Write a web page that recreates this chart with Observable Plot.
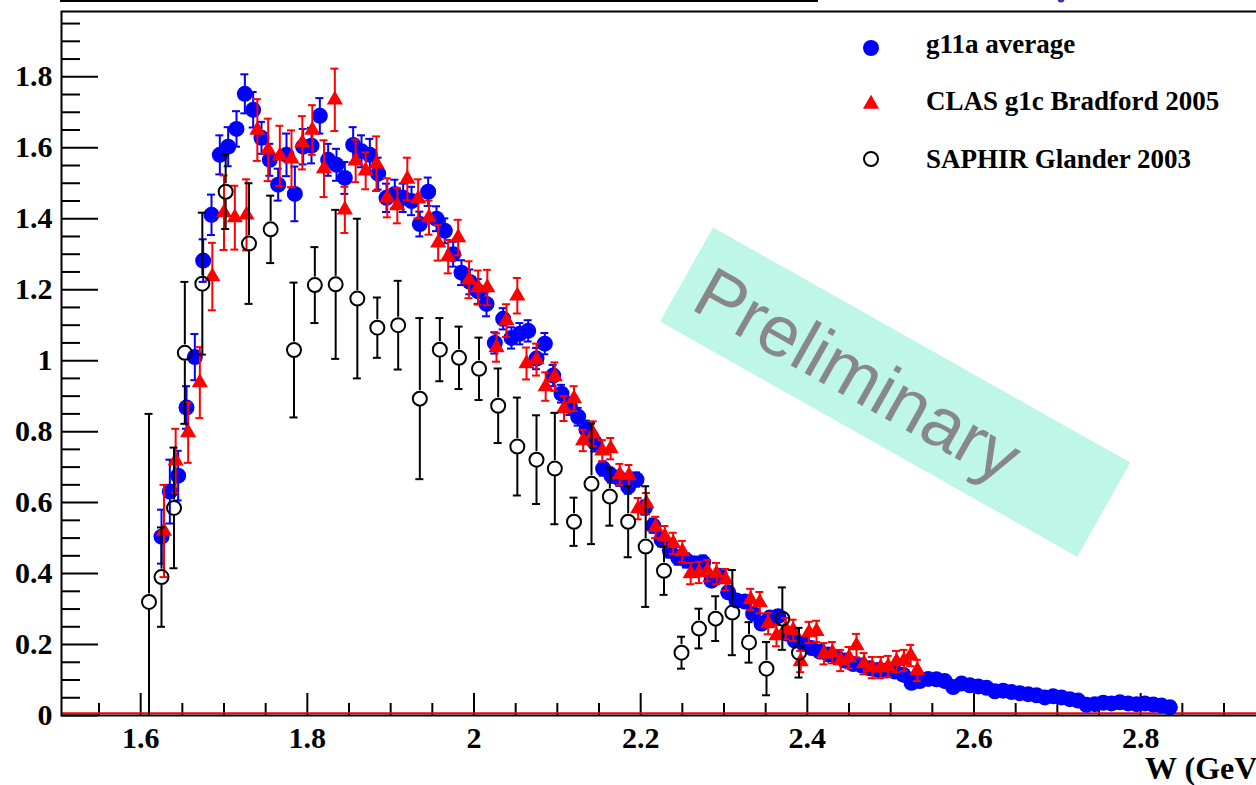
<!DOCTYPE html>
<html><head><meta charset="utf-8">
<script src="https://cdn.jsdelivr.net/npm/d3@7"></script>
<script src="https://cdn.jsdelivr.net/npm/@observablehq/plot@0.6"></script>
<style>
html,body{margin:0;padding:0;background:#fff;overflow:hidden;width:1256px;height:785px;}
#chart{position:absolute;left:0;top:0;width:1280px;height:785px;}
#chart svg{max-width:none !important;width:1280px !important;height:785px !important;}
</style></head><body><div id="chart"></div>
<script>
// ---- g11a average (blue filled circles)
const g11aW = [1.625,1.635,1.645,1.655,1.665,1.675,1.685,1.695,1.705,1.715,1.725,1.735,1.745,1.755,1.765,1.775,1.785,1.795,1.805,1.815,1.825,1.835,1.845,1.855,1.865,1.875,1.885,1.895,1.905,1.915,1.925,1.935,1.945,1.955,1.965,1.975,1.985,1.995,2.005,2.015,2.025,2.035,2.045,2.055,2.065,2.075,2.085,2.095,2.105,2.115,2.125,2.135,2.145,2.155,2.165,2.175,2.185,2.195,2.205,2.215,2.225,2.235,2.245,2.255,2.265,2.275,2.285,2.295,2.305,2.315,2.325,2.335,2.345,2.355,2.365,2.375,2.385,2.395,2.405,2.415,2.425,2.435,2.445,2.455,2.465,2.475,2.485,2.495,2.505,2.515,2.525,2.535,2.545,2.555,2.565,2.575,2.585,2.595,2.605,2.615,2.625,2.635,2.645,2.655,2.665,2.675,2.685,2.695,2.705,2.715,2.725,2.735,2.745,2.755,2.765,2.775,2.785,2.795,2.805,2.815,2.825,2.835];
const g11aY = [0.504,0.631,0.676,0.868,1.010,1.282,1.411,1.580,1.603,1.653,1.752,1.707,1.628,1.566,1.496,1.580,1.470,1.603,1.606,1.690,1.566,1.552,1.515,1.608,1.590,1.580,1.527,1.459,1.470,1.459,1.450,1.385,1.476,1.400,1.366,1.300,1.248,1.222,1.195,1.160,1.050,1.118,1.064,1.076,1.084,1.006,1.048,0.958,0.907,0.872,0.842,0.806,0.769,0.696,0.676,0.667,0.645,0.665,0.586,0.535,0.496,0.465,0.445,0.437,0.428,0.431,0.380,0.394,0.347,0.324,0.321,0.287,0.259,0.276,0.280,0.231,0.211,0.203,0.190,0.180,0.172,0.165,0.155,0.145,0.141,0.133,0.128,0.127,0.124,0.115,0.092,0.097,0.103,0.102,0.097,0.080,0.090,0.085,0.082,0.078,0.068,0.070,0.066,0.063,0.060,0.057,0.051,0.054,0.051,0.046,0.042,0.030,0.032,0.036,0.034,0.037,0.034,0.032,0.034,0.031,0.028,0.023];
const g11aErr = [0.076,0.09,0.07,0.06,0.065,0.06,0.057,0.055,0.055,0.05,0.055,0.05,0.045,0.045,0.045,0.06,0.077,0.05,0.05,0.05,0.045,0.045,0.045,0.05,0.045,0.045,0.045,0.04,0.04,0.04,0.04,0.035,0.04,0.035,0.035,0.035,0.035,0.035,0.035,0.035,0.03,0.03,0.03,0.03,0.03,0.03,0.03,0.03,0.025,0.025,0.025,0.025,0.025,0.02,0.02,0.02,0.02,0.02,0.02,0.02,0.02,0.02,0.02,0.02,0.02,0.02,0.015,0.015,0.015,0.015,0.015,0.015,0.015,0.015,0.015,0.015,0.015,0.015,0.012,0.012,0.012,0.012,0.012,0.012,0.012,0.012,0.01,0.01,0.01,0.01,0.01,0.01,0.01,0.01,0.01,0.01,0.01,0.01,0.008,0.008,0.008,0.008,0.008,0.008,0.008,0.008,0.008,0.008,0.008,0.008,0.008,0.008,0.008,0.008,0.008,0.008,0.008,0.008,0.008,0.008,0.008,0.008];

// ---- CLAS g1c Bradford 2005 (red triangles)
const clasW = [1.628,1.642,1.657,1.671,1.686,1.700,1.713,1.727,1.740,1.753,1.767,1.781,1.794,1.806,1.820,1.833,1.845,1.858,1.870,1.883,1.896,1.908,1.920,1.933,1.946,1.957,1.969,1.981,1.994,2.005,2.016,2.027,2.039,2.052,2.063,2.075,2.086,2.097,2.108,2.120,2.131,2.143,2.154,2.164,2.175,2.186,2.197,2.207,2.218,2.229,2.239,2.250,2.260,2.270,2.280,2.291,2.302,2.332,2.343,2.353,2.363,2.374,2.383,2.392,2.402,2.411,2.420,2.430,2.440,2.450,2.459,2.468,2.478,2.488,2.497,2.507,2.516,2.524,2.532];
const clasY = [0.520,0.718,0.797,0.938,1.237,1.417,1.403,1.411,1.650,1.594,1.577,1.569,1.614,1.650,1.541,1.735,1.425,1.563,1.535,1.555,1.459,1.437,1.512,1.456,1.403,1.332,1.293,1.347,1.228,1.206,1.206,1.037,1.113,1.183,0.992,1.003,0.927,0.955,0.865,0.893,0.775,0.794,0.746,0.752,0.679,0.676,0.583,0.597,0.530,0.504,0.485,0.462,0.400,0.403,0.408,0.400,0.383,0.327,0.318,0.259,0.225,0.245,0.240,0.152,0.234,0.237,0.174,0.177,0.155,0.163,0.197,0.146,0.135,0.135,0.138,0.152,0.155,0.169,0.127];
const clasErr = [0.13,0.09,0.085,0.1,0.095,0.105,0.09,0.1,0.087,0.088,0.085,0.08,0.075,0.07,0.08,0.088,0.065,0.06,0.052,0.077,0.055,0.05,0.06,0.055,0.048,0.05,0.047,0.05,0.052,0.048,0.05,0.04,0.046,0.05,0.045,0.045,0.04,0.04,0.035,0.035,0.03,0.035,0.03,0.03,0.03,0.03,0.03,0.03,0.03,0.03,0.03,0.03,0.03,0.03,0.03,0.03,0.03,0.03,0.03,0.03,0.03,0.03,0.03,0.03,0.03,0.03,0.03,0.03,0.03,0.03,0.033,0.03,0.03,0.03,0.03,0.03,0.03,0.03,0.03];

// ---- SAPHIR Glander 2003 (open black circles)
const saphirW = [1.610,1.625,1.640,1.653,1.674,1.702,1.730,1.756,1.784,1.809,1.834,1.860,1.884,1.909,1.935,1.959,1.982,2.006,2.029,2.052,2.075,2.097,2.120,2.141,2.163,2.185,2.206,2.228,2.249,2.270,2.290,2.310,2.330,2.351,2.370,2.390];
const saphirY = [0.32,0.39,0.585,1.022,1.217,1.476,1.33,1.37,1.03,1.213,1.215,1.175,1.093,1.10,0.893,1.031,1.008,0.977,0.873,0.758,0.721,0.696,0.546,0.653,0.617,0.546,0.476,0.408,0.177,0.245,0.273,0.29,0.206,0.132,0.273,0.177];
const saphirErr = [0.53,0.14,0.17,0.2,0.2,0.105,0.17,0.095,0.19,0.107,0.21,0.225,0.085,0.125,0.227,0.089,0.088,0.088,0.105,0.138,0.125,0.157,0.068,0.17,0.082,0.1,0.17,0.068,0.045,0.056,0.063,0.12,0.057,0.075,0.088,0.07];

// ---- axis ticks
const xMajor = [1.6,1.8,2.0,2.2,2.4,2.6,2.8];
const xMinor = [1.55,1.65,1.7,1.75,1.85,1.9,1.95,2.05,2.1,2.15,2.25,2.3,2.35,2.45,2.5,2.55,2.65,2.7,2.75,2.85,2.9,2.95];
const yMajor = [0,0.2,0.4,0.6,0.8,1,1.2,1.4,1.6,1.8];
const yMinor = [0.05,0.1,0.15,0.25,0.3,0.35,0.45,0.5,0.55,0.65,0.7,0.75,0.85,0.9,0.95,1.05,1.1,1.15,1.25,1.3,1.35,1.45,1.5,1.55,1.65,1.7,1.75,1.85,1.9,1.95];
const xLabels = ["1.6","1.8","2","2.2","2.4","2.6","2.8"];
const yLabels = ["0","0.2","0.4","0.6","0.8","1","1.2","1.4","1.6","1.8"];

const legendNames = ["g11a average","CLAS g1c Bradford 2005","SAPHIR Glander 2003"];

const BLUE = "#0000ff", RED = "#ff0000", BLACK = "#000000";
const blue = g11aW.map((w,i)=>({w, y:g11aY[i], e:g11aErr[i]}));
const red = clasW.map((w,i)=>({w, y:clasY[i], e:clasErr[i]}));
const black = saphirW.map((w,i)=>({w, y:saphirY[i], e:saphirErr[i]}));

const W = 1280, H = 785, mL = 61, mR = 6.5, mT = 11, mB = 70;
const innerW = W - mL - mR, innerH = H - mT - mB;
const SERIF = "'Liberation Serif','Times New Roman',serif";
const RB = 7; // black circle radius

function errMarks(data, color, split) {
  const m = [];
  if (split) {
    const pxPerUnit = innerH / 1.984;
    const big = data.filter(d => d.e * pxPerUnit > RB + 1.5);
    m.push(Plot.ruleX(big, {x:"w", y1: d => d.y + d.e, y2: "y", insetBottom: RB + 1, stroke: color, strokeWidth: 2}));
    m.push(Plot.ruleX(big.filter(d => d.y * pxPerUnit > RB + 1.5), {x:"w", y1: "y", y2: d => Math.max(0, d.y - d.e), insetTop: RB + 1, stroke: color, strokeWidth: 2}));
  } else {
    m.push(Plot.ruleX(data, {x:"w", y1: d => Math.max(0, d.y - d.e), y2: d => d.y + d.e, stroke: color, strokeWidth: 2}));
  }
  m.push(Plot.ruleY(data, {y: d => d.y + d.e, x1:"w", x2:"w", insetLeft:-4, insetRight:-4, stroke: color, strokeWidth: 2}));
  m.push(Plot.ruleY(data.filter(d => d.y - d.e > 0), {y: d => d.y - d.e, x1:"w", x2:"w", insetLeft:-4, insetRight:-4, stroke: color, strokeWidth: 2}));
  return m;
}

const plot = Plot.plot({
  width: W, height: H,
  marginLeft: mL, marginRight: mR, marginTop: mT, marginBottom: mB,
  x: {domain: [1.505, 2.96]},
  y: {domain: [0, 1.984]},
  style: {fontFamily: SERIF, fontWeight: "bold", background: "white", color: "black", maxWidth: "none"},
  marks: [
    Plot.axisY({ticks: yMajor, tickSize: 0, tickPadding: 9, tickFormat: (d,i) => yLabels[i], fontSize: 30, fontWeight: "bold", label: null}),
    Plot.axisX({ticks: xMajor, tickSize: 0, tickPadding: 11, tickFormat: (d,i) => xLabels[i], fontSize: 30, fontWeight: "bold", label: null}),
    Plot.text(["W (GeV)"], {frameAnchor: "bottom-right", dx: -6, dy: 63, textAnchor: "end", fontSize: 32, fontWeight: "bold"}),
    Plot.tickY(yMajor, {y: d => d, insetRight: innerW - 37, stroke: BLACK, strokeWidth: 2}),
    Plot.tickY(yMinor, {y: d => d, insetRight: innerW - 19, stroke: BLACK, strokeWidth: 2}),
    Plot.tickX(xMajor, {x: d => d, insetTop: innerH - 22, stroke: BLACK, strokeWidth: 2}),
    Plot.tickX(xMinor, {x: d => d, insetTop: innerH - 12, stroke: BLACK, strokeWidth: 2}),
    Plot.ruleY([0], {stroke: RED, strokeWidth: 2, dy: -2.3}),
    ...errMarks(blue, BLUE, false),
    Plot.dot(blue, {x:"w", y:"y", r: 8, fill: BLUE, stroke: "none"}),
    ...errMarks(red, RED, false),
    Plot.dot(red, {x:"w", y:"y", r: 6, symbol: "triangle", fill: RED, stroke: "none"}),
    ...errMarks(black, BLACK, true),
    Plot.dot(black, {x:"w", y:"y", r: RB, fill: "none", stroke: BLACK, strokeWidth: 2}),
    Plot.frame({stroke: BLACK, strokeWidth: 2})
  ]
});
plot.style.maxWidth = "none";

const svg = d3.select(plot);
const xs = plot.scale("x"), ys = plot.scale("y");

// "Preliminary" stamp, placed in data coordinates, drawn beneath the data
const cx = xs.apply(2.506), cy = ys.apply(0.910);
const stamp = svg.insert("g", ":first-child").attr("transform", `translate(${cx},${cy}) rotate(29.4)`);
stamp.append("rect").attr("x", -239.5).attr("y", -54).attr("width", 479).attr("height", 108).attr("fill", "#bef6e8");
stamp.append("text").attr("x", -221).attr("y", 28).attr("text-anchor", "start")
  .attr("font-family", "'Liberation Sans',Arial,sans-serif")
  .attr("font-weight", "normal").attr("font-size", 72).attr("fill", "#888888").text("Preliminary");

// title box fragment at top
svg.append("rect").attr("x", 61).attr("y", -30).attr("width", 756).attr("height", 31).attr("fill", "none").attr("stroke", BLACK).attr("stroke-width", 2);
svg.append("circle").attr("cx", 1061).attr("cy", -1).attr("r", 3.5).attr("fill", "#3333aa");

// legend
const lg = svg.append("g");
const rowsY = [48, 104, 159];
const baseY = [53, 110, 168];
lg.append("circle").attr("cx", 871).attr("cy", rowsY[0]).attr("r", 8).attr("fill", BLUE);
lg.append("path").attr("transform", `translate(871,${rowsY[1]})`).attr("d", d3.symbol(d3.symbolTriangle, 113)()).attr("fill", RED);
lg.append("circle").attr("cx", 871).attr("cy", rowsY[2]).attr("r", RB).attr("fill", "none").attr("stroke", BLACK).attr("stroke-width", 2);
legendNames.forEach((n, i) => {
  lg.append("text").attr("x", 926).attr("y", baseY[i]).attr("text-anchor", "start")
    .attr("font-family", SERIF).attr("font-weight", "bold").attr("font-size", 27).attr("fill", BLACK).text(n);
});

document.getElementById("chart").appendChild(plot);
</script>
</body></html>
